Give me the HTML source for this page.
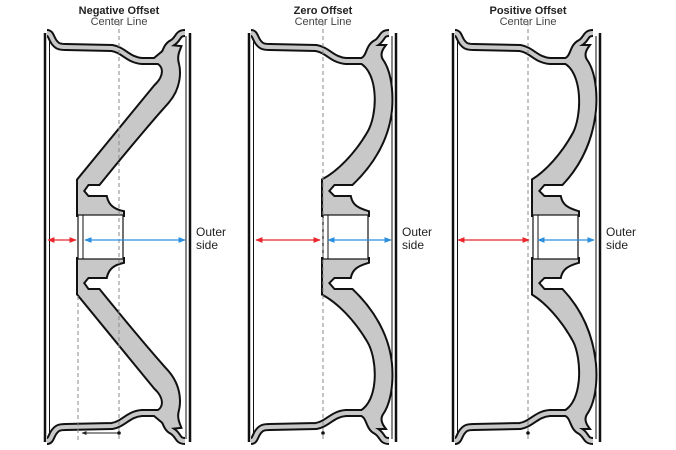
<!DOCTYPE html>
<html><head><meta charset="utf-8"><style>
html,body{margin:0;padding:0;background:#fff;}
svg{display:block;}
text{font-family:"Liberation Sans",sans-serif;}
</style></head><body>
<svg width="676" height="450" viewBox="0 0 676 450" xmlns="http://www.w3.org/2000/svg">
<defs>
<path id="barrel" d="M47,33 C51,33 51,38 54,42 C57,46 59,47 66,47 L112,48 C124,50 128,60 142,61 L158,61 C166,58 164,47 172,43 C179,39 177,33 185,33"/>
<path id="sp1" d="M152,61 C166,63 166,76 155,86 L78,180 L78,215 L123,215 L123,212 C114,210 108,206 106,197 L88,197 L83,191 L88,184 L99,184 C125,152 150,122 168,102 C180,88 180,72 178,64 C176,57 178,52 180,47 L170,46 Z"/>
<path id="sp2" d="M360,62 C380,72 379,115 368,133 C355,155 338,172 323,180 L323,215 L368,215 L368,212 C358,209 352,206 350,197 L334,197 L328,191 L334,184 L352,184 C372,165 388,140 391,110 C393,85 388,68 382,60 C379,55 381,50 384,46 L375,46 Z"/>
<path id="sp3" d="M564,62 C584,72 583,115 574,133 C562,155 546,172 533,180 L533,215 L578,215 L578,212 C568,209 562,206 560,197 L544,197 L538,191 L544,184 L562,184 C580,165 592,140 595,110 C597,85 592,68 586,60 C583,55 585,50 588,46 L579,46 Z"/>
<marker id="ar" viewBox="0 0 10 10" refX="9" refY="5" markerWidth="6" markerHeight="6" orient="auto-start-reverse"><path d="M0,1 L10,5 L0,9 Z" fill="#e8262b"/></marker>
<marker id="ab" viewBox="0 0 10 10" refX="9" refY="5" markerWidth="6" markerHeight="6" orient="auto-start-reverse"><path d="M0,1 L10,5 L0,9 Z" fill="#2b8fe0"/></marker>
<marker id="ak" viewBox="0 0 10 10" refX="9" refY="5" markerWidth="5" markerHeight="5" orient="auto"><path d="M0,1 L10,5 L0,9 Z" fill="#222"/></marker>
<g id="half1">
<use href="#barrel" fill="none" stroke="#111" stroke-width="8"/>
<use href="#sp1" fill="#c8c8c8" stroke="#111" stroke-width="4"/>
<use href="#barrel" fill="none" stroke="#c8c8c8" stroke-width="4"/>
<use href="#sp1" fill="#c8c8c8"/>
</g>
<g id="half2">
<use href="#barrel" transform="translate(204,0)" fill="none" stroke="#111" stroke-width="8"/>
<use href="#sp2" fill="#c8c8c8" stroke="#111" stroke-width="4"/>
<use href="#barrel" transform="translate(204,0)" fill="none" stroke="#c8c8c8" stroke-width="4"/>
<use href="#sp2" fill="#c8c8c8"/>
</g>
<g id="half3">
<use href="#barrel" transform="translate(408,0)" fill="none" stroke="#111" stroke-width="8"/>
<use href="#sp3" fill="#c8c8c8" stroke="#111" stroke-width="4"/>
<use href="#barrel" transform="translate(408,0)" fill="none" stroke="#c8c8c8" stroke-width="4"/>
<use href="#sp3" fill="#c8c8c8"/>
</g>
</defs>

<!-- Wheel 1 -->
<g>
<line x1="45" y1="33" x2="45" y2="442" stroke="#111" stroke-width="2.5"/>
<line x1="49.5" y1="36" x2="49.5" y2="439" stroke="#111" stroke-width="1"/>
<line x1="190" y1="33" x2="190" y2="442" stroke="#111" stroke-width="2.5"/>
<line x1="186" y1="36" x2="186" y2="439" stroke="#111" stroke-width="1"/>
<use href="#half1"/>
<use href="#half1" transform="translate(0,474) scale(1,-1)"/>
<rect x="78" y="215" width="45" height="44" fill="#fff" stroke="#111" stroke-width="1.2"/>
<line x1="83" y1="215" x2="83" y2="259" stroke="#111" stroke-width="1"/>
<line x1="119" y1="22" x2="119" y2="440" stroke="#888" stroke-width="1" stroke-dasharray="4,3"/>
<line x1="78" y1="296" x2="78" y2="440" stroke="#888" stroke-width="1" stroke-dasharray="4,3"/>
<line x1="119" y1="433" x2="82" y2="433" stroke="#222" stroke-width="1" marker-end="url(#ak)"/>
<circle cx="119" cy="433" r="1.8" fill="#111"/>
<line x1="48" y1="240" x2="76" y2="240" stroke="#e8262b" stroke-width="1.2" marker-start="url(#ar)" marker-end="url(#ar)"/>
<line x1="85" y1="240" x2="185" y2="240" stroke="#2b8fe0" stroke-width="1.2" marker-start="url(#ab)" marker-end="url(#ab)"/>
<text x="119" y="14" text-anchor="middle" font-size="11" font-weight="bold" fill="#222">Negative Offset</text>
<text x="119" y="25" text-anchor="middle" font-size="11" fill="#444">Center Line</text>
<text x="196" y="236" font-size="12" fill="#222">Outer</text>
<text x="196" y="249" font-size="12" fill="#222">side</text>
</g>

<!-- Wheel 2 -->
<g>
<line x1="249" y1="33" x2="249" y2="442" stroke="#111" stroke-width="2.5"/>
<line x1="253.5" y1="36" x2="253.5" y2="439" stroke="#111" stroke-width="1"/>
<line x1="396" y1="33" x2="396" y2="442" stroke="#111" stroke-width="2.5"/>
<line x1="392" y1="36" x2="392" y2="439" stroke="#111" stroke-width="1"/>
<use href="#half2"/>
<use href="#half2" transform="translate(0,474) scale(1,-1)"/>
<rect x="323" y="215" width="45" height="44" fill="#fff" stroke="#111" stroke-width="1.2"/>
<line x1="328" y1="215" x2="328" y2="259" stroke="#111" stroke-width="1"/>
<line x1="323" y1="22" x2="323" y2="440" stroke="#888" stroke-width="1" stroke-dasharray="4,3"/>
<circle cx="323" cy="433" r="1.8" fill="#111"/>
<line x1="256" y1="240" x2="320" y2="240" stroke="#e8262b" stroke-width="1.2" marker-start="url(#ar)" marker-end="url(#ar)"/>
<line x1="328" y1="240" x2="391" y2="240" stroke="#2b8fe0" stroke-width="1.2" marker-start="url(#ab)" marker-end="url(#ab)"/>
<text x="323" y="14" text-anchor="middle" font-size="11" font-weight="bold" fill="#222">Zero Offset</text>
<text x="323" y="25" text-anchor="middle" font-size="11" fill="#444">Center Line</text>
<text x="402" y="236" font-size="12" fill="#222">Outer</text>
<text x="402" y="249" font-size="12" fill="#222">side</text>
</g>

<!-- Wheel 3 -->
<g>
<line x1="453" y1="33" x2="453" y2="442" stroke="#111" stroke-width="2.5"/>
<line x1="457.5" y1="36" x2="457.5" y2="439" stroke="#111" stroke-width="1"/>
<line x1="600" y1="33" x2="600" y2="442" stroke="#111" stroke-width="2.5"/>
<line x1="596" y1="36" x2="596" y2="439" stroke="#111" stroke-width="1"/>
<use href="#half3"/>
<use href="#half3" transform="translate(0,474) scale(1,-1)"/>
<rect x="533" y="215" width="45" height="44" fill="#fff" stroke="#111" stroke-width="1.2"/>
<line x1="538" y1="215" x2="538" y2="259" stroke="#111" stroke-width="1"/>
<line x1="528" y1="22" x2="528" y2="440" stroke="#888" stroke-width="1" stroke-dasharray="4,3"/>
<circle cx="528" cy="433" r="1.8" fill="#111"/>
<line x1="458" y1="240" x2="529" y2="240" stroke="#e8262b" stroke-width="1.2" marker-start="url(#ar)" marker-end="url(#ar)"/>
<line x1="538" y1="240" x2="594" y2="240" stroke="#2b8fe0" stroke-width="1.2" marker-start="url(#ab)" marker-end="url(#ab)"/>
<text x="528" y="14" text-anchor="middle" font-size="11" font-weight="bold" fill="#222">Positive Offset</text>
<text x="528" y="25" text-anchor="middle" font-size="11" fill="#444">Center Line</text>
<text x="606" y="236" font-size="12" fill="#222">Outer</text>
<text x="606" y="249" font-size="12" fill="#222">side</text>
</g>
</svg>
</body></html>
